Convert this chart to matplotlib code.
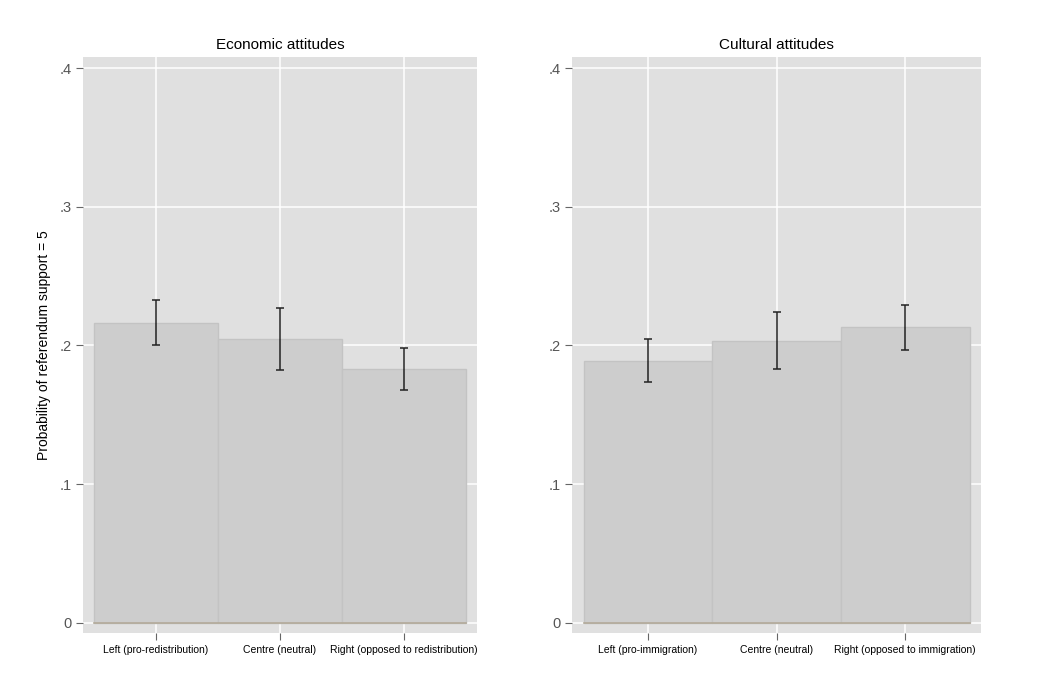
import matplotlib
matplotlib.use("Agg")
import matplotlib.pyplot as plt
import numpy as np

plt.rcParams['font.family'] = ['Liberation Sans', 'DejaVu Sans']

econ_labels = ["Left (pro-redistribution)", "Centre (neutral)", "Right (opposed to redistribution)"]
econ_mean = [0.216, 0.2045, 0.183]
econ_low = [0.2, 0.182, 0.168]
econ_high = [0.2325, 0.227, 0.198]

cult_labels = ["Left (pro-immigration)", "Centre (neutral)", "Right (opposed to immigration)"]
cult_mean = [0.189, 0.203, 0.2135]
cult_low = [0.1737, 0.1828, 0.1968]
cult_high = [0.2047, 0.2241, 0.2295]

yticks = [0, 0.1, 0.2, 0.3, 0.4]
ytick_labels = ["0", ".1", ".2", ".3", ".4"]


def panel(ax, labels, mean, low, high, title):
    x = np.arange(1, len(labels) + 1)
    mean = np.array(mean)
    err = [mean - np.array(low), np.array(high) - mean]
    ax.set_facecolor('#e0e0e0')
    ax.bar(x, mean, width=1.0, color='#cdcdcd', edgecolor='#c3c3c3', linewidth=1, zorder=2)
    ax.plot([0.5, 3.5], [0, 0], color='#b3aa9a', lw=1.2, zorder=3)
    ax.errorbar(x, mean, yerr=err, fmt='none', ecolor='#222222', elinewidth=1.1,
                capsize=2.9, capthick=1.1, zorder=4)
    ax.set_xlim(0.41, 3.59)
    ax.set_ylim(-0.0072, 0.408)
    ax.set_xticks(x)
    ax.set_xticklabels(labels, fontsize=7.5)
    ax.set_yticks(yticks)
    ax.set_yticklabels(ytick_labels, fontsize=10.5, color='#555555')
    ax.grid(True, color='white', lw=1.1, zorder=1)
    ax.set_axisbelow(True)
    for s in ax.spines.values():
        s.set_visible(False)
    ax.tick_params(axis='y', length=5, color='#666666', pad=3)
    ax.tick_params(axis='x', length=5, color='#666666', pad=4, direction='out')
    ax.set_title(title, fontsize=11, pad=6)


fig = plt.figure(figsize=(10.41, 6.94), dpi=100)
ax1 = fig.add_axes([0.0797, 0.088, 0.3785, 0.830])
ax2 = fig.add_axes([0.5495, 0.088, 0.393, 0.830])

panel(ax1, econ_labels, econ_mean, econ_low, econ_high, "Economic attitudes")
panel(ax2, cult_labels, cult_mean, cult_low, cult_high, "Cultural attitudes")
ax1.set_ylabel("Probability of referendum support = 5", fontsize=10, labelpad=6)

fig.savefig("out.png", dpi=100, facecolor='white')
